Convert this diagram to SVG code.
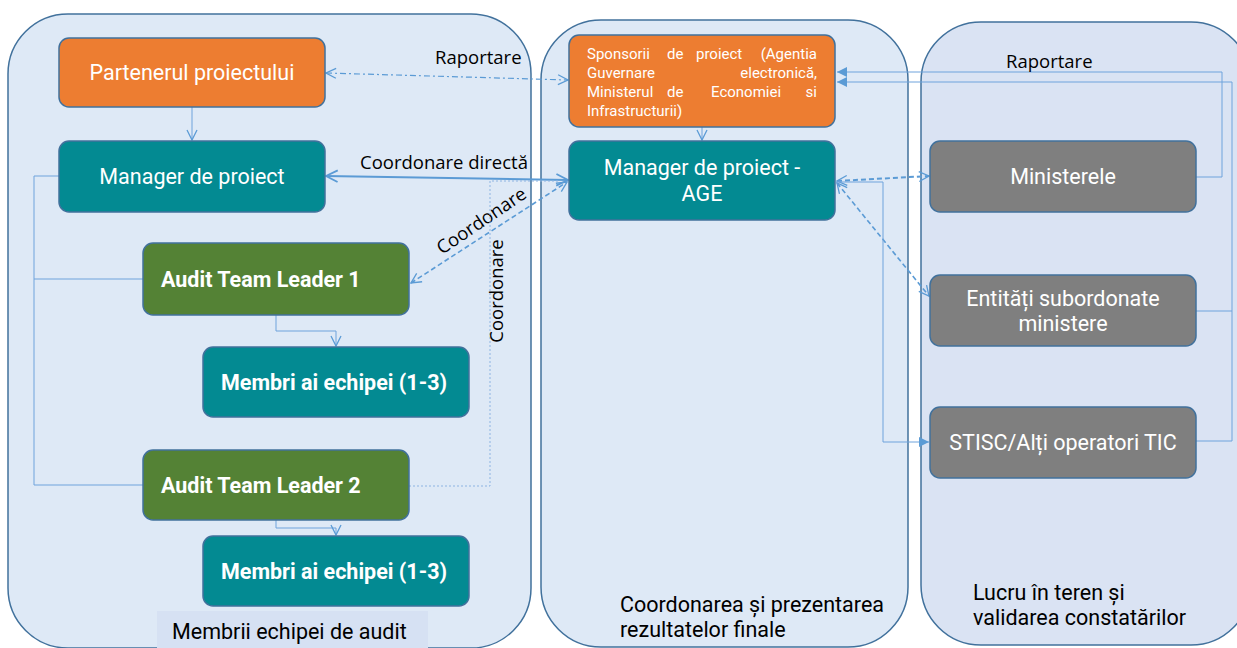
<svg xmlns="http://www.w3.org/2000/svg" width="1237" height="648" viewBox="0 0 1237 648">
<style>
.cont{fill:#dee9f6;stroke:#41719c;stroke-width:1.5}
.node{stroke:#41719c;stroke-width:1.5}
.or{fill:#ed7d31}.tl{fill:#038a92}.gr{fill:#548235}.gy{fill:#7f7f7f}
.nt{font-family:Roboto,"Liberation Sans",sans-serif;font-size:21.5px;fill:#fff;text-anchor:middle}
.bt{font-family:Roboto,"Liberation Sans",sans-serif;font-size:21.5px;font-weight:bold;fill:#fff}
.lb{font-family:"Open Sans","Liberation Sans",sans-serif;font-size:18.5px;fill:#000}
.lb2{font-family:Roboto,"Liberation Sans",sans-serif;font-size:21.5px;fill:#000}
.sp{font-family:Roboto,"Liberation Sans",sans-serif;font-size:15px;fill:#fff}
.thin{fill:none;stroke:#6fa3dc;stroke-width:1}
.c{fill:none;stroke:#5b9bd5}
</style>
<defs>
<marker id="oa" viewBox="0 0 12 12" refX="11" refY="6" markerWidth="12" markerHeight="12" markerUnits="userSpaceOnUse" orient="auto-start-reverse">
<path d="M1,1 L11,6 L1,11" fill="none" stroke="#5b9bd5" stroke-width="1.3"/>
</marker>
<marker id="oa2" viewBox="0 0 12 12" refX="11" refY="6" markerWidth="14" markerHeight="14" markerUnits="userSpaceOnUse" orient="auto-start-reverse">
<path d="M1,1 L11,6 L1,11" fill="none" stroke="#5b9bd5" stroke-width="1.6"/>
</marker>
<marker id="fa" viewBox="0 0 12 12" refX="11" refY="6" markerWidth="12" markerHeight="12" markerUnits="userSpaceOnUse" orient="auto">
<path d="M1,1 L11,6 L1,11 Z" fill="#5b9bd5"/>
</marker>
</defs>

<g id="containers">
<rect id="c-audit" class="cont" x="8" y="14" width="523" height="634" rx="60"/>
<rect id="c-coord" class="cont" x="541" y="20" width="367" height="627" rx="60"/>
<rect id="c-field" class="cont" x="921" y="22" width="330" height="623" rx="60" style="fill:#dae3f3"/>
<rect x="157" y="611" width="271" height="37" fill="#d6e1f3"/>
<text class="lb2" x="172" y="639">Membrii echipei de audit</text>
<text class="lb2" x="620" y="612">Coordonarea și prezentarea</text>
<text class="lb2" x="620" y="637">rezultatelor finale</text>
<text class="lb2" x="973" y="600">Lucru în teren și</text>
<text class="lb2" x="973" y="625">validarea constatărilor</text>
</g>

<g id="connectors">
<path class="thin" d="M192,107 V140" marker-end="url(#oa)"/>
<path class="thin" d="M59,176 H34 V485 H143 M34,279 H143"/>
<path class="thin" d="M276,315 V331 H336 V346" marker-end="url(#oa)"/>
<path class="thin" d="M276,520 V528 H336 V535" marker-end="url(#oa)"/>
<path class="c" d="M326,73 L568,80" stroke="#8db4e2" stroke-width="1.2" stroke-dasharray="6,3,2,3" marker-start="url(#oa)" marker-end="url(#oa)"/>
<text class="lb" x="435" y="64">Raportare</text>
<path class="c" d="M326,176 L568,180" stroke-width="2" marker-start="url(#oa2)" marker-end="url(#oa2)"/>
<text class="lb" x="360" y="169">Coordonare directă</text>
<path class="c" d="M411,283 L567,182" stroke-width="1.6" stroke-dasharray="5,3" marker-start="url(#oa)" marker-end="url(#oa)"/>
<text class="lb" transform="translate(485,226) rotate(-34)" text-anchor="middle">Coordonare</text>
<path d="M409,486 H490 V181 H560" fill="none" stroke="#8db4e2" stroke-width="1" stroke-dasharray="2,2"/>
<text class="lb" transform="translate(503,291) rotate(-90)" text-anchor="middle">Coordonare</text>
<path class="thin" d="M702,127 V140" marker-end="url(#oa)"/>
<path class="thin" d="M1196,177 H1222 V72 H837" marker-end="url(#fa)"/>
<path class="thin" d="M1196,441 H1232 V82 H837" marker-end="url(#fa)"/>
<path class="thin" d="M1196,311 H1232"/>
<text class="lb" x="1006" y="68">Raportare</text>
<path class="c" d="M837,181 L929,176" stroke-width="2" stroke-dasharray="5,3" marker-start="url(#oa)" marker-end="url(#oa)"/>
<path class="c" d="M837,183 L929,296" stroke-width="1.6" stroke-dasharray="5,3" marker-start="url(#oa)" marker-end="url(#oa)"/>
<path class="thin" d="M836,182 H883 V442 H929" marker-end="url(#fa)"/>
</g>

<g id="n-partener">
<rect class="node or" x="59" y="38" width="266" height="69" rx="10"/>
<text class="nt" x="192" y="80">Partenerul proiectului</text>
</g>
<g id="n-manager">
<rect class="node tl" x="59" y="141" width="266" height="71" rx="10"/>
<text class="nt" x="192" y="184">Manager de proiect</text>
</g>
<g id="n-atl1">
<rect class="node gr" x="143" y="243" width="266" height="72" rx="10"/>
<text class="bt" x="161" y="287">Audit Team Leader 1</text>
</g>
<g id="n-membri1">
<rect class="node tl" x="203" y="347" width="266" height="70" rx="10"/>
<text class="bt" x="334" y="390" text-anchor="middle">Membri ai echipei (1-3)</text>
</g>
<g id="n-atl2">
<rect class="node gr" x="143" y="450" width="266" height="70" rx="10"/>
<text class="bt" x="161" y="493">Audit Team Leader 2</text>
</g>
<g id="n-membri2">
<rect class="node tl" x="203" y="536" width="266" height="70" rx="10"/>
<text class="bt" x="334" y="579" text-anchor="middle">Membri ai echipei (1-3)</text>
</g>
<g id="n-sponsori">
<rect class="node or" x="569" y="35" width="266" height="92" rx="10"/>
<text class="sp" x="587" y="59">Sponsorii</text>
<text class="sp" x="667" y="59">de</text>
<text class="sp" x="696" y="59">proiect</text>
<text class="sp" x="817" y="59" text-anchor="end">(Agentia</text>
<text class="sp" x="587" y="78">Guvernare</text>
<text class="sp" x="817" y="78" text-anchor="end">electronică,</text>
<text class="sp" x="587" y="97">Ministerul</text>
<text class="sp" x="667" y="97">de</text>
<text class="sp" x="711" y="97">Economiei</text>
<text class="sp" x="817" y="97" text-anchor="end">si</text>
<text class="sp" x="587" y="116">Infrastructurii)</text>
</g>
<g id="n-age">
<rect class="node tl" x="569" y="141" width="266" height="79" rx="10"/>
<text class="nt" x="702" y="175">Manager de proiect -</text>
<text class="nt" x="702" y="201">AGE</text>
</g>
<g id="n-ministerele">
<rect class="node gy" x="930" y="141" width="266" height="71" rx="10"/>
<text class="nt" x="1063" y="184">Ministerele</text>
</g>
<g id="n-entitati">
<rect class="node gy" x="930" y="275" width="266" height="71" rx="10"/>
<text class="nt" x="1063" y="306">Entități subordonate</text>
<text class="nt" x="1063" y="331">ministere</text>
</g>
<g id="n-stisc">
<rect class="node gy" x="930" y="407" width="266" height="71" rx="10"/>
<text class="nt" x="1063" y="450">STISC/Alți operatori TIC</text>
</g>
</svg>
